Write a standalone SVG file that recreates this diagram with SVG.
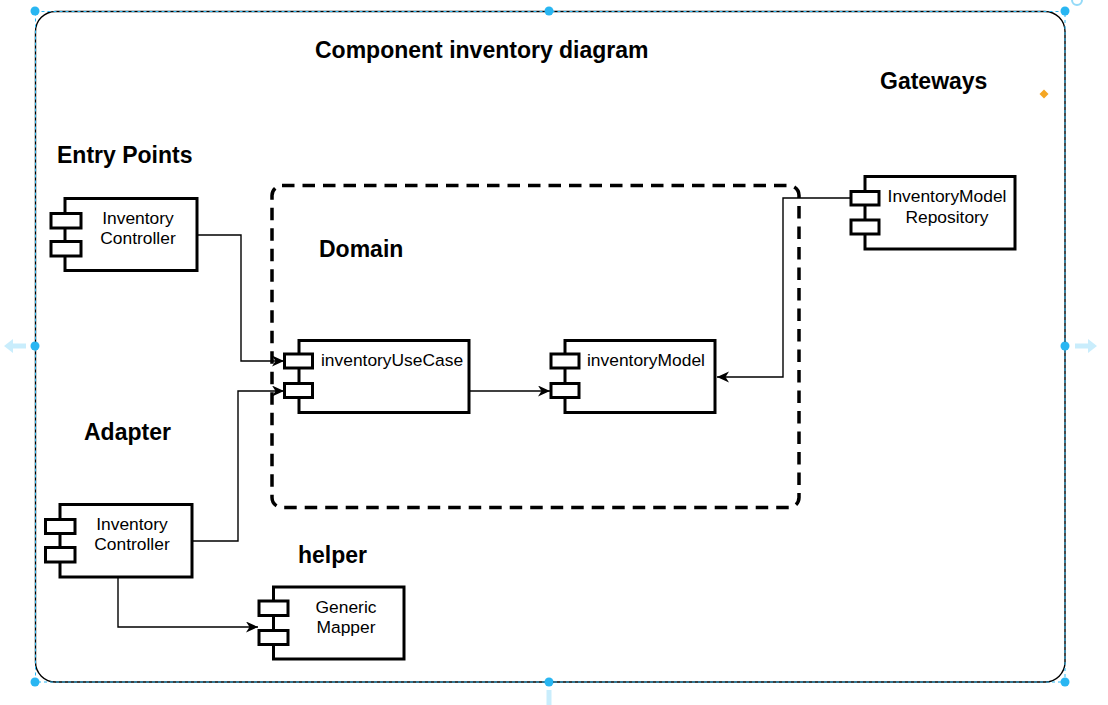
<svg xmlns="http://www.w3.org/2000/svg" width="1108" height="705" viewBox="0 0 1108 705">
<style>
text{font-family:"Liberation Sans",Arial,sans-serif;fill:#000}
.title{font-size:23px;font-weight:bold}
.lbl{font-size:17.4px}
.mid{text-anchor:middle}
.body{fill:#fff;stroke:#000;stroke-width:3}
.port{fill:#fff;stroke:#000;stroke-width:3}
.conn{fill:none;stroke:#000;stroke-width:1.4}
.handle{fill:#29b6f2;stroke:none}
.ghost{fill:#29b6f2;opacity:0.25}
</style>
<defs>
<marker id="arr" markerUnits="userSpaceOnUse" markerWidth="14" markerHeight="12" refX="12" refY="5.5" orient="auto">
<path d="M0,0 L12,5.5 L0,11 L3.5,5.5 Z" fill="#000"/>
</marker>
</defs>
<rect width="1108" height="705" fill="#fff"/>
<g id="container">
<rect x="35.5" y="11.5" width="1029.5" height="670.5" rx="20" ry="20" fill="#fff" stroke="#000" stroke-width="1.4"/>
<rect x="35.5" y="11.5" width="1029.5" height="670.5" fill="none" stroke="#29b6f2" stroke-width="1" stroke-dasharray="3 3"/>
</g>
<g id="domain">
<rect x="272" y="185.5" width="527" height="322" rx="10" ry="10" fill="none" stroke="#000" stroke-width="3.5" stroke-dasharray="12.5 8"/>
</g>
<g id="titles">
<text class="title" x="315" y="58">Component inventory diagram</text>
<text class="title" x="880" y="89">Gateways</text>
<text class="title" x="57" y="163">Entry Points</text>
<text class="title" x="319" y="257">Domain</text>
<text class="title" x="84" y="440">Adapter</text>
<text class="title" x="298" y="563">helper</text>
</g>
<g id="connectors">
<path class="conn" d="M197,235 H241 V361 H284" marker-end="url(#arr)"/>
<path class="conn" d="M192,541 H238 V391 H284" marker-end="url(#arr)"/>
<path class="conn" d="M118,577 V627 H258" marker-end="url(#arr)"/>
<path class="conn" d="M470,391 H550" marker-end="url(#arr)"/>
<path class="conn" d="M851,198 H783 V377 H717" marker-end="url(#arr)"/>
</g>
<g id="entry-controller">
<rect class="body" x="65" y="198.5" width="132" height="72"/>
<rect class="port" x="51" y="213.5" width="30" height="14.5"/>
<rect class="port" x="51" y="241.5" width="30" height="14.5"/>
<text class="lbl mid" x="138" y="224">Inventory</text>
<text class="lbl mid" x="138" y="244">Controller</text>
</g>
<g id="use-case">
<rect class="body" x="299" y="340.5" width="170" height="72"/>
<rect class="port" x="284.5" y="354" width="28" height="14"/>
<rect class="port" x="284.5" y="383.5" width="28" height="14"/>
<text class="lbl" x="321" y="366">inventoryUseCase</text>
</g>
<g id="inventory-model">
<rect class="body" x="565" y="340.5" width="150" height="72"/>
<rect class="port" x="551" y="354" width="28" height="14"/>
<rect class="port" x="551" y="383.5" width="28" height="14"/>
<text class="lbl" x="587" y="366">inventoryModel</text>
</g>
<g id="repository">
<rect class="body" x="865" y="176.5" width="150" height="72.5"/>
<rect class="port" x="851" y="191.5" width="28" height="13.5"/>
<rect class="port" x="851" y="220" width="28" height="14"/>
<text class="lbl mid" x="947" y="202">InventoryModel</text>
<text class="lbl mid" x="947" y="223">Repository</text>
</g>
<g id="adapter-controller">
<rect class="body" x="60" y="504.5" width="132" height="72.5"/>
<rect class="port" x="45.5" y="519.5" width="29.5" height="14"/>
<rect class="port" x="45.5" y="547.5" width="29.5" height="14.5"/>
<text class="lbl mid" x="132" y="530">Inventory</text>
<text class="lbl mid" x="132" y="550">Controller</text>
</g>
<g id="generic-mapper">
<rect class="body" x="273.5" y="587" width="130.5" height="72"/>
<rect class="port" x="259" y="601" width="29" height="14.5"/>
<rect class="port" x="259" y="630.5" width="29" height="14"/>
<text class="lbl mid" x="346" y="613">Generic</text>
<text class="lbl mid" x="346" y="633">Mapper</text>
</g>
<g id="selection-ui">
<circle class="handle" cx="35" cy="11" r="4.5"/>
<circle class="handle" cx="549" cy="11" r="4.5"/>
<circle class="handle" cx="1065" cy="11" r="4.5"/>
<circle class="handle" cx="35" cy="346" r="4.5"/>
<circle class="handle" cx="1065" cy="346" r="4.5"/>
<circle class="handle" cx="35" cy="682" r="4.5"/>
<circle class="handle" cx="549" cy="682" r="4.5"/>
<circle class="handle" cx="1065" cy="682" r="4.5"/>
<circle cx="1077" cy="0" r="5" fill="none" stroke="#29b6f2" stroke-width="2" opacity="0.5"/>
<path d="M1044,89.5 L1048.5,94 L1044,98.5 L1039.5,94 Z" fill="#f5a623"/>
<path class="ghost" d="M4,346 L13,339 L13,343.5 L26,343.5 L26,348.5 L13,348.5 L13,353 Z"/>
<path class="ghost" d="M1097,346 L1088,339 L1088,343.5 L1075,343.5 L1075,348.5 L1088,348.5 L1088,353 Z"/>
<path class="ghost" d="M546.5,690 L551.5,690 L551.5,705 L546.5,705 Z"/>
</g>
</svg>
